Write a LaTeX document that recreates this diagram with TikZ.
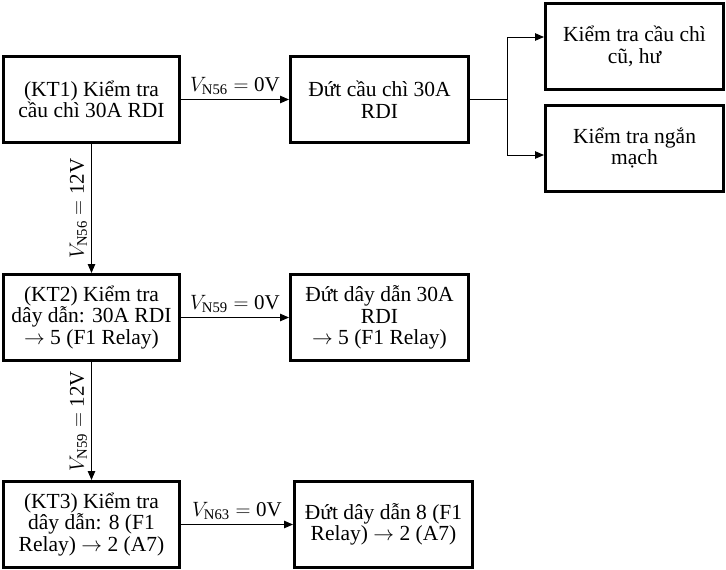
\documentclass[tikz,border=0pt]{standalone}
\usepackage{amsmath}
\usepackage{fontspec}
\setmainfont{Liberation Serif}
\usepackage{tikz}
\usetikzlibrary{arrows.meta, positioning}
\tikzset{
  chk/.style = {draw, line width=3pt, align=center,
                font=\fontsize{21.5}{21.5}\selectfont,
                minimum width=176pt, minimum height=86pt, inner sep=2pt},
  res/.style = {chk, minimum width=178pt},
  fl/.style  = {-{Triangle[length=9pt,width=7.5pt]}, line width=0.9pt},
  lbl/.style = {font=\fontsize{21}{21}\selectfont, inner sep=4pt},
}

\begin{document}
\begin{tikzpicture}[node distance=108pt]
  \useasboundingbox (0,0) rectangle (726pt,-570pt);
  \node[chk] (kt1) at (91.5pt,-99.5pt) {(KT1) Kiểm tra\\cầu chì 30A RDI};
  \node[res, right=of kt1] (cc) {Đứt cầu chì 30A\\RDI};
  \coordinate[right=37pt of cc] (jn);
  \node[res, right=74pt of cc, yshift=53pt]    (cu) {Kiểm tra cầu chì\\cũ, hư};
  \node[res, right=74pt of cc, yshift=-48.5pt] (nm) {Kiểm tra ngắn\\mạch};
  \node[chk, below=129pt of kt1] (kt2) {(KT2) Kiểm tra\\dây dẫn: 30A RDI\\$\rightarrow$ 5 (F1 Relay)};
  \node[res, right=of kt2] (dd1) {Đứt dây dẫn 30A\\RDI\\$\rightarrow$ 5 (F1 Relay)};
  \node[chk, below=118pt of kt2] (kt3) {(KT3) Kiểm tra\\dây dẫn: 8 (F1\\Relay) $\rightarrow$ 2 (A7)};
  \node[res, right=112pt of kt3] (dd2) {Đứt dây dẫn 8 (F1\\Relay) $\rightarrow$ 2 (A7)};
  \draw[fl] (kt1) -- node[lbl, above] {$V_{\text{N56}} = \text{0V}$} (cc);
  \draw[fl] (kt2) -- node[lbl, above] {$V_{\text{N59}} = \text{0V}$} (dd1);
  \draw[fl] (kt3) -- node[lbl, above] {$V_{\text{N63}} = \text{0V}$} (dd2);
  \draw[fl] (kt1) -- node[lbl, rotate=90, anchor=south] {$V_{\text{N56}} = \text{12V}$} (kt2);
  \draw[fl] (kt2) -- node[lbl, rotate=90, anchor=south] {$V_{\text{N59}} = \text{12V}$} (kt3);
  \draw[fl] (cc.east) -- (jn) |- ([yshift=9.5pt]cu.west);
  \draw[fl] (jn) |- ([yshift=-7pt]nm.west);
\end{tikzpicture}
\end{document}
